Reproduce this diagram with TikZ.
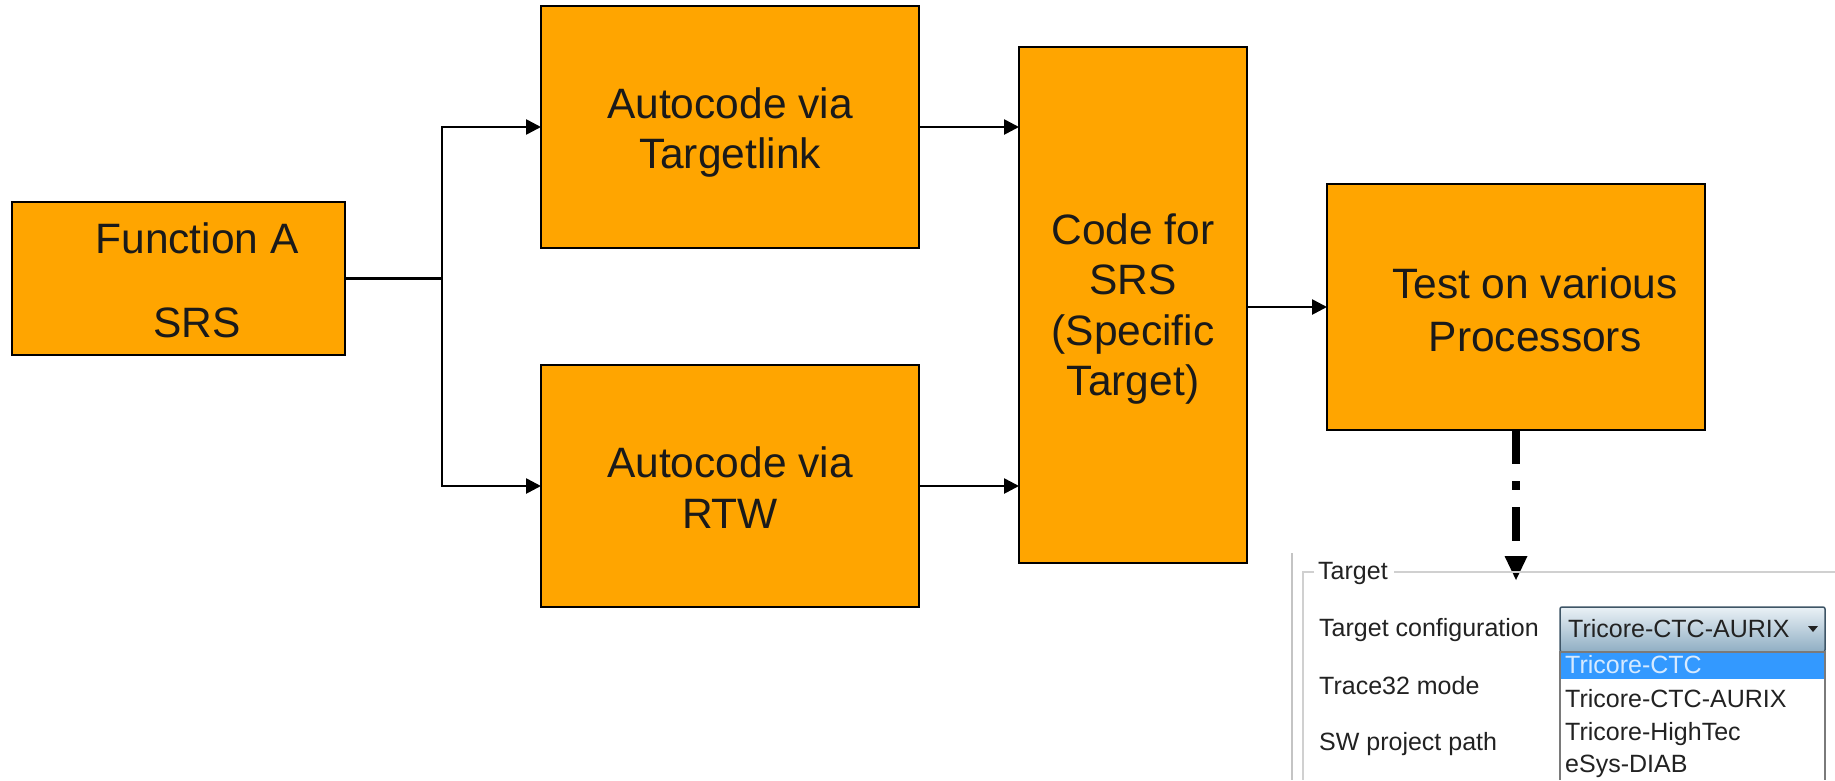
\documentclass[tikz,border=0pt]{standalone}
\usepackage{fontspec}
\setmainfont{Liberation Sans}
\usetikzlibrary{arrows.meta}
\definecolor{boxorange}{HTML}{FFA500}
\definecolor{inktext}{HTML}{1A1A1A}
\definecolor{uigray}{HTML}{C4C4C4}
\definecolor{gbline}{HTML}{D0D0D0}
\definecolor{uitext}{HTML}{222222}
\definecolor{uiblue}{HTML}{3399FF}
\definecolor{uiborder}{HTML}{3E5566}
\definecolor{listborder}{HTML}{7A7A7A}
\definecolor{uihltext}{HTML}{D6EAFF}
\definecolor{ddtop}{HTML}{EAF1F6}
\definecolor{ddbottom}{HTML}{8FAEC3}
\tikzset{
  flowbox/.style={draw=black, line width=2.2pt, fill=boxorange, inner sep=0pt, outer sep=0pt},
  bigtxt/.style={font=\fontsize{42.5}{50.5}\selectfont, text=inktext, inner sep=0pt, anchor=base},
  conn/.style={line width=2.6pt, draw=black},
  arr/.style={conn, -{Triangle[length=15pt,width=15pt]}},
  dashline/.style={line width=7.5pt, draw=black, dash pattern=on 34pt off 17pt on 9pt off 17pt},
  uitxt/.style={font=\fontsize{25}{30}\selectfont, text=uitext, inner sep=0pt, anchor=base west},
}
\begin{document}
\begin{tikzpicture}[x=1pt,y=-1pt]
\useasboundingbox (0,0) rectangle (1835,780);
\fill[white] (0,0) rectangle (1835,780);

% boxes
\node[flowbox, minimum width=333pt, minimum height=153pt] (fa) at (178.5,278.5) {};
\node[flowbox, minimum width=378pt, minimum height=242pt] (atl) at (730,127) {};
\node[flowbox, minimum width=378pt, minimum height=242pt] (artw) at (730,486) {};
\node[flowbox, minimum width=228pt, minimum height=516pt] (code) at (1133,305) {};
\node[flowbox, minimum width=378pt, minimum height=246pt] (test) at (1516,307) {};

% box texts
\node[bigtxt] (fa1) at (197,253) {Function A};
\node[bigtxt] (fa2) at (197,337) {SRS};
\node[bigtxt] (atl1) at (730,118) {Autocode via};
\node[bigtxt] (atl2) at (730,168) {Targetlink};
\node[bigtxt] (artw1) at (730,477) {Autocode via};
\node[bigtxt] (artw2) at (730,528) {RTW};
\node[bigtxt] (code1) at (1133,244) {Code for};
\node[bigtxt] (code2) at (1133,294.5) {SRS};
\node[bigtxt] (code3) at (1133,345) {(Specific};
\node[bigtxt] (code4) at (1133,395.5) {Target)};
\node[bigtxt] (test1) at (1535,298) {Test on various};
\node[bigtxt] (test2) at (1535,351) {Processors};

% connectors
\coordinate (split) at (442,278.5);
\draw[conn] (fa.east) -- (split);
\draw[arr] (split) |- (atl.west);
\draw[arr] (split) |- (artw.west);
\draw[arr] (atl.east) -- (atl.east -| code.west);
\draw[arr] (artw.east) -- (artw.east -| code.west);
\draw[arr] (test.west -| code.east) -- (test.west);
\coordinate (tip) at (1516,580);
\draw[dashline, shorten >=24pt] (test.south) -- (tip);
\fill[black] (tip) -- ++(-11.5,-24) -- ++(23,0) -- cycle;

% screenshot of target settings
\draw[uigray, line width=2pt] (1292,553) -- (1292,780);
\draw[gbline, line width=1.5pt] (1314,572) -- (1303,572) -- (1303,780);
\draw[gbline, line width=1.5pt] (1394,572) -- (1835,572);
\node[uitxt] (gbtitle) at (1318,579) {Target};
\node[uitxt] (lblcfg) at (1319,636) {Target configuration};
\node[uitxt] (lbltrace) at (1319,694) {Trace32 mode};
\node[uitxt] (lblsw) at (1319,750) {SW project path};

% dropdown
\draw[draw=uiborder, line width=1.5pt, rounded corners=2pt, top color=ddtop, bottom color=ddbottom] (1560,607) rectangle (1825,652);
\node[uitxt] (ddsel) at (1568,637) {Tricore-CTC-AURIX};
\fill[uitext] (1808,626) -- (1818,626) -- (1813,632) -- cycle;

% dropdown list
\fill[white] (1560,652) rectangle (1825,780);
\fill[uiblue] (1561,653) rectangle (1824,679);
\draw[listborder, line width=1.5pt] (1560,780) -- (1560,652) -- (1825,652) -- (1825,780);
\node[uitxt, text=uihltext] (it1) at (1565,673) {Tricore-CTC};
\node[uitxt] (it2) at (1565,707) {Tricore-CTC-AURIX};
\node[uitxt] (it3) at (1565,740) {Tricore-HighTec};
\node[uitxt] (it4) at (1565,772) {eSys-DIAB};
\end{tikzpicture}
\end{document}
